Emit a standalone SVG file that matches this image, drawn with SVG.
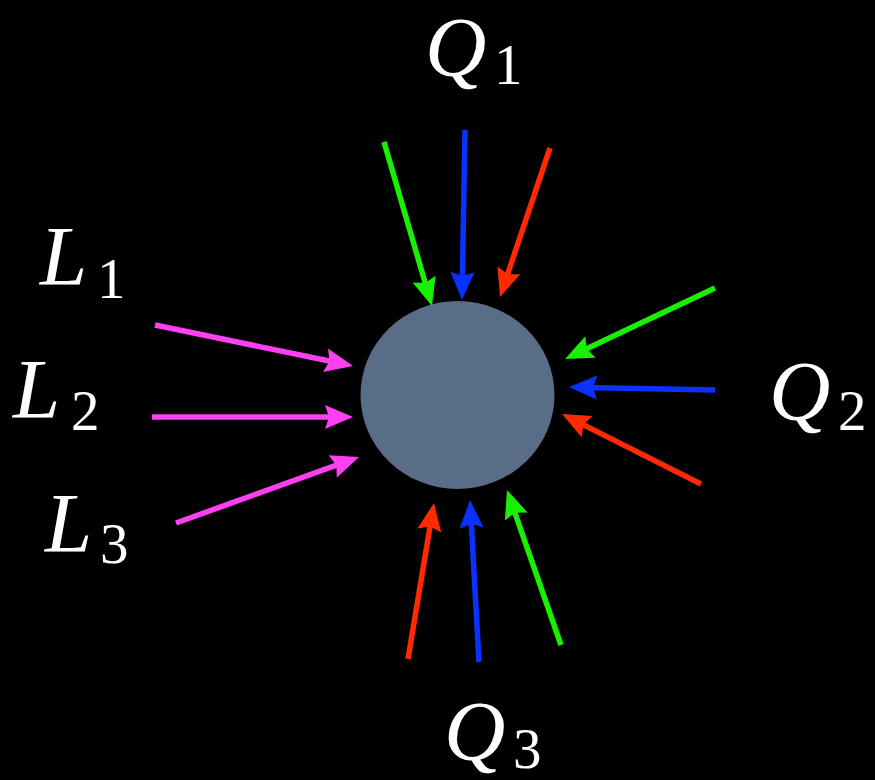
<svg xmlns="http://www.w3.org/2000/svg" width="875" height="780" viewBox="0 0 875 780">
<style>
.lbl{font-family:"Liberation Serif","Times New Roman",serif;fill:#ffffff}
.v{font-style:italic;font-size:85px}
.s{font-size:57px}
.g{stroke:#19f000}.b{stroke:#0a32ff}.r{stroke:#ff2a00}.m{stroke:#ff40f0}
line{stroke-width:5.5;fill:none}
</style>
<defs>
<marker id="ag" viewBox="-12 -13 32 26" refX="0" refY="0" markerWidth="32" markerHeight="26" markerUnits="userSpaceOnUse" orient="auto"><path d="M18,0 L-10,-12 L-6,0 L-10,12 Z" fill="#19f000"/></marker>
<marker id="ab" viewBox="-12 -13 32 26" refX="0" refY="0" markerWidth="32" markerHeight="26" markerUnits="userSpaceOnUse" orient="auto"><path d="M18,0 L-10,-12 L-6,0 L-10,12 Z" fill="#0a32ff"/></marker>
<marker id="ar" viewBox="-12 -13 32 26" refX="0" refY="0" markerWidth="32" markerHeight="26" markerUnits="userSpaceOnUse" orient="auto"><path d="M18,0 L-10,-12 L-6,0 L-10,12 Z" fill="#ff2a00"/></marker>
<marker id="am" viewBox="-12 -13 32 26" refX="0" refY="0" markerWidth="32" markerHeight="26" markerUnits="userSpaceOnUse" orient="auto"><path d="M18,0 L-10,-12 L-6,0 L-10,12 Z" fill="#ff40f0"/></marker>
</defs>
<rect width="875" height="780" fill="#000000"/>
<g id="body">
<ellipse cx="457.5" cy="395" rx="97" ry="94" fill="#5a6d87"/>
</g>
<g id="connectors">
<line class="g" x1="384" y1="142" x2="426.9" y2="288.7" marker-end="url(#ag)"/>
<line class="b" x1="465" y1="130" x2="462.3" y2="282" marker-end="url(#ab)"/>
<line class="r" x1="550" y1="148" x2="505.7" y2="279.9" marker-end="url(#ar)"/>
<line class="m" x1="155" y1="325" x2="335.4" y2="362.3" marker-end="url(#am)"/>
<line class="m" x1="152" y1="417" x2="335" y2="417" marker-end="url(#am)"/>
<line class="m" x1="176" y1="523" x2="342.1" y2="463.1" marker-end="url(#am)"/>
<line class="g" x1="715" y1="288" x2="581.3" y2="351.3" marker-end="url(#ag)"/>
<line class="b" x1="715" y1="390" x2="587" y2="387.4" marker-end="url(#ab)"/>
<line class="r" x1="701" y1="484" x2="578.1" y2="422.1" marker-end="url(#ar)"/>
<line class="r" x1="408" y1="659" x2="431" y2="520.7" marker-end="url(#ar)"/>
<line class="b" x1="479" y1="662" x2="471" y2="518" marker-end="url(#ab)"/>
<line class="g" x1="561" y1="645" x2="512.9" y2="507" marker-end="url(#ag)"/>
</g>
<g id="Q1"><text class="lbl" x="425" y="76"><tspan class="v">Q</tspan><tspan class="s" x="494" y="84">1</tspan></text></g>
<g id="Q2"><text class="lbl" x="769" y="420"><tspan class="v">Q</tspan><tspan class="s" x="838" y="430">2</tspan></text></g>
<g id="Q3"><text class="lbl" x="444" y="760"><tspan class="v">Q</tspan><tspan class="s" x="513" y="768">3</tspan></text></g>
<g id="L1"><text class="lbl" x="40" y="285"><tspan class="v">L</tspan><tspan class="s" x="97" y="298">1</tspan></text></g>
<g id="L2"><text class="lbl" x="13" y="418"><tspan class="v">L</tspan><tspan class="s" x="71" y="430">2</tspan></text></g>
<g id="L3"><text class="lbl" x="45" y="552"><tspan class="v">L</tspan><tspan class="s" x="100" y="563">3</tspan></text></g>
</svg>
